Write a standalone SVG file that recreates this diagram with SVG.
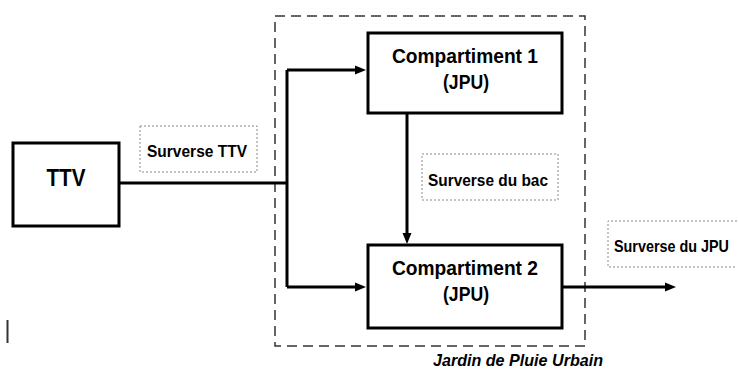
<svg xmlns="http://www.w3.org/2000/svg" width="738" height="370" viewBox="0 0 738 370">
  <style>
    .box { fill: #ffffff; stroke: #000000; stroke-width: 3; }
    .lbl { fill: none; stroke: #8a8a8a; stroke-width: 1; stroke-dasharray: 2 2; }
    .grp { fill: none; stroke: #333333; stroke-width: 1.5; stroke-dasharray: 10 6; }
    .wire { fill: none; stroke: #000000; stroke-width: 3; }
    text { font-family: "Liberation Sans", Arial, sans-serif; font-weight: bold; fill: #000000; }
    .big { font-size: 20px; text-anchor: middle; }
    .small { font-size: 17px; }
  </style>
  <defs>
    <marker id="arrow" markerUnits="userSpaceOnUse" markerWidth="11" markerHeight="10" refX="1" refY="5" orient="auto">
      <path d="M0,0.5 L11,5 L0,9.5 z" fill="#000000"/>
    </marker>
  </defs>
  <rect width="738" height="370" fill="#ffffff"/>

  <g id="jardin">
    <rect class="grp" x="275" y="16" width="310" height="330"/>
    <text x="433" y="366" font-size="17" font-style="italic" textLength="170" lengthAdjust="spacingAndGlyphs">Jardin de Pluie Urbain</text>
  </g>

  <g id="connectors">
    <path class="wire" d="M119,183 H287"/>
    <path class="wire" d="M287,70 V287"/>
    <path class="wire" d="M287,70 H356" marker-end="url(#arrow)"/>
    <path class="wire" d="M287,287 H356" marker-end="url(#arrow)"/>
    <path class="wire" d="M407,113 V234" marker-end="url(#arrow)"/>
    <path class="wire" d="M562,287 H666" marker-end="url(#arrow)"/>
  </g>

  <g id="ttv">
    <rect class="box" x="13" y="143" width="106" height="83"/>
    <text x="66" y="186" font-size="24" text-anchor="middle" textLength="39" lengthAdjust="spacingAndGlyphs">TTV</text>
  </g>

  <g id="compartiment1">
    <rect class="box" x="368" y="33" width="194" height="80"/>
    <text class="big" x="465" y="63" textLength="146" lengthAdjust="spacingAndGlyphs">Compartiment 1</text>
    <text class="big" x="466" y="89" textLength="46" lengthAdjust="spacingAndGlyphs">(JPU)</text>
  </g>

  <g id="compartiment2">
    <rect class="box" x="368" y="245" width="194" height="83"/>
    <text class="big" x="465" y="275" textLength="146" lengthAdjust="spacingAndGlyphs">Compartiment 2</text>
    <text class="big" x="466" y="301" textLength="46" lengthAdjust="spacingAndGlyphs">(JPU)</text>
  </g>

  <g id="surverse-ttv">
    <rect class="lbl" x="140" y="126" width="117" height="46"/>
    <text class="small" x="147" y="157" textLength="100" lengthAdjust="spacingAndGlyphs">Surverse TTV</text>
  </g>

  <g id="surverse-bac">
    <rect class="lbl" x="422" y="154" width="136" height="46"/>
    <text class="small" x="428" y="186" textLength="120" lengthAdjust="spacingAndGlyphs">Surverse du bac</text>
  </g>

  <g id="surverse-jpu">
    <path class="lbl" d="M737,221 H608 V267 H737"/>
    <text class="small" x="614" y="252" textLength="115" lengthAdjust="spacingAndGlyphs">Surverse du JPU</text>
  </g>

  <line x1="7.5" y1="320" x2="7.5" y2="343" stroke="#333333" stroke-width="2"/>
</svg>
